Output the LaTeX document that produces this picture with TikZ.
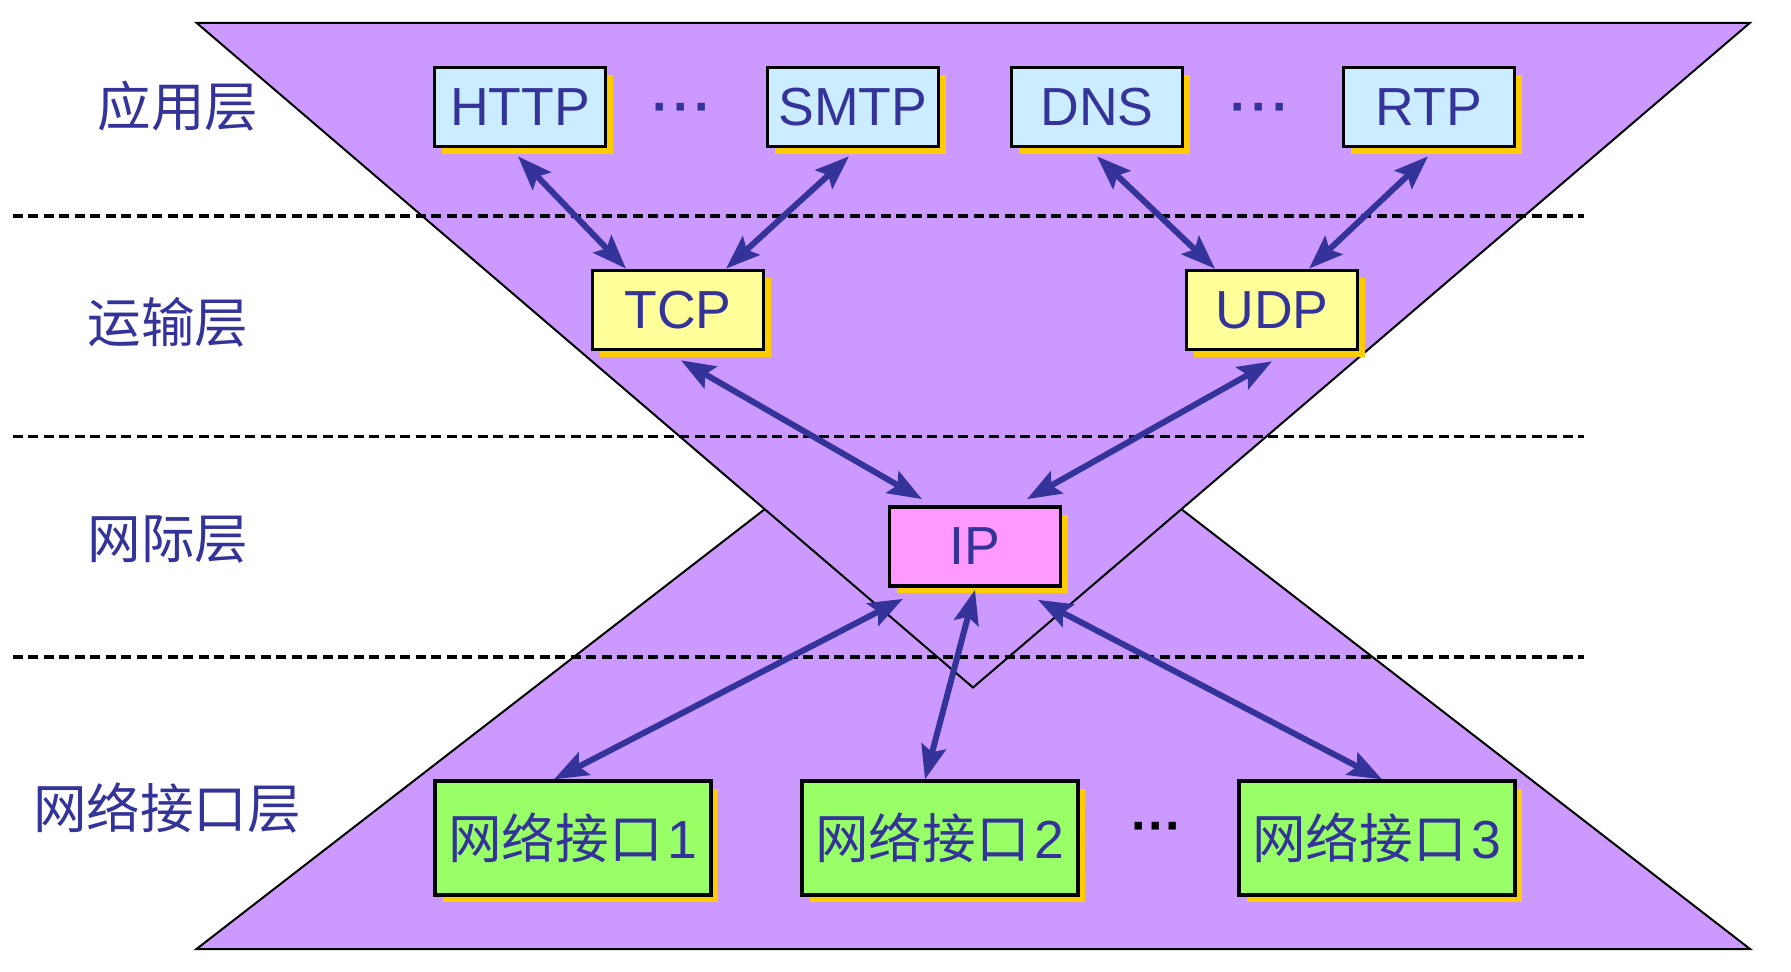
\documentclass[tikz,border=0pt]{standalone}
\usepackage{fontspec}
\setmainfont{Liberation Sans}
\newfontfamily\cjk{Noto Sans CJK SC}[Scale=1.0]
\usetikzlibrary{arrows.meta,shadows,calc}
\definecolor{violetbg}{HTML}{CC99FF}
\definecolor{inkblue}{HTML}{333399}
\definecolor{appfill}{HTML}{CCECFF}
\definecolor{tranfill}{HTML}{FFFF99}
\definecolor{ipfill}{HTML}{FF99FF}
\definecolor{netfill}{HTML}{99FF66}
\definecolor{shadowgold}{HTML}{FFCC00}
\begin{document}
\begin{tikzpicture}[x=0.02cm, y=-0.02cm, >={Stealth[length=0.68cm,width=0.5cm,inset=0.12cm]},
every node/.style={font=\fontsize{30.5pt}{35pt}\selectfont, text=inkblue},
box/.style={draw=black, line width=0.075cm, inner sep=0pt, minimum width=3.42cm, minimum height=1.58cm,
  general shadow={fill=shadowgold, shadow xshift=0.15cm, shadow yshift=-0.15cm}},
netbox/.style={box, fill=netfill, minimum width=5.52cm, minimum height=2.27cm},
dots/.style={font=\fontsize{29.5pt}{34pt}\selectfont\bfseries},
arr/.style={<->, line width=0.12cm, draw=inkblue},
tri/.style={fill=violetbg, draw=black, line width=0.04cm, line join=miter},
layer/.style={draw=black, line width=0.065cm, dash pattern=on 0.2cm off 0.11cm}]
\useasboundingbox (0,0) rectangle (1791,972);
\filldraw[tri] (196.5,949) -- (973,348) -- (1750,949) -- cycle;
\filldraw[tri] (196.5,22.8) -- (1750,22.8) -- (973,687.5) -- cycle;
\draw[layer] (13,216) -- (1584,216);
\draw[layer] (13,436.5) -- (1584,436.5);
\draw[layer] (13,657) -- (1584,657);
\node (app) at (178,106) {\cjk 应用层};
\node (trans) at (168,322) {\cjk 运输层};
\node (inet) at (168,539) {\cjk 网际层};
\node (link) at (167,808) {\cjk 网络接口层};
\node[box,fill=appfill] (http) at (520,107) {HTTP};
\node[dots] (dotsa) at (682,114) {·\kern2pt·\kern2pt·};
\node[box,fill=appfill] (smtp) at (853,107) {SMTP};
\node[box,fill=appfill] (dns) at (1097,107) {DNS};
\node[dots] (dotsb) at (1260,114) {·\kern2pt·\kern2pt·};
\node[box,fill=appfill] (rtp) at (1429,107) {RTP};
\node[box,fill=tranfill] (tcp) at (678,310) {TCP};
\node[box,fill=tranfill] (udp) at (1272,310) {UDP};
\node[box,fill=ipfill] (ip) at (975,546.5) {IP};
\node[netbox] (neta) at (573,838) {{\cjk 网络接口}\kern0.1em 1};
\node[netbox] (netb) at (940,838) {{\cjk 网络接口}\kern0.1em 2};
\node[dots,text=black] (dotsc) at (1157,833) {···};
\node[netbox] (netc) at (1377,838) {{\cjk 网络接口}\kern0.1em 3};
\draw[arr] ($(http.south)+(-2,8)$) -- ($(tcp.north)+(-52,0)$);
\draw[arr] ($(smtp.south)+(-4,8)$) -- ($(tcp.north)+(48,0)$);
\draw[arr] ($(dns.south)+(0,8)$) -- ($(udp.north)+(-57,0)$);
\draw[arr] ($(rtp.south)+(-1,8)$) -- ($(udp.north)+(37,0)$);
\draw[arr] ($(tcp.south)+(3,9)$) -- ($(ip.north)+(-53,-6)$);
\draw[arr] ($(udp.south)+(0,10)$) -- ($(ip.north)+(52,-6)$);
\draw[arr] ($(ip.south)+(-72,11)$) -- ($(neta.north)+(-19,0)$);
\draw[arr] ($(ip.south)+(0,2)$) -- ($(netb.north)+(-15,0)$);
\draw[arr] ($(ip.south)+(63,12)$) -- ($(netc.north)+(5,0)$);
\end{tikzpicture}
\end{document}
